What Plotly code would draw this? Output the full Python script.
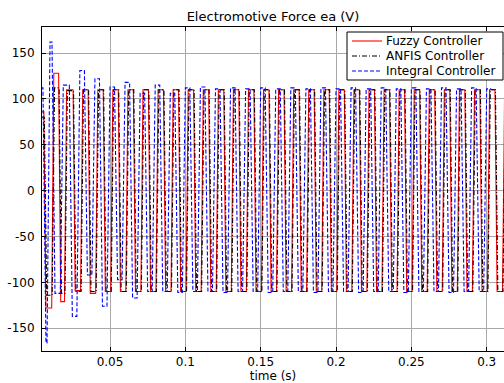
import plotly.graph_objects as go

# ---------------- data ----------------
# zero-crossing instants (s) of each half-cycle and the plateau value (V) reached in it
fuzzy_cross = [0.0030, 0.0068, 0.0120, 0.0166, 0.0205, 0.0262,
               0.0312, 0.0362, 0.0412, 0.0462, 0.0512, 0.0562, 0.0612, 0.0662, 0.0712, 0.0762,
               0.0812, 0.0862, 0.0912, 0.0962, 0.1012, 0.1062, 0.1112, 0.1162, 0.1212, 0.1262,
               0.1312, 0.1362, 0.1412, 0.1462, 0.1512, 0.1562, 0.1612, 0.1662, 0.1712, 0.1762,
               0.1812, 0.1862, 0.1912, 0.1962, 0.2012, 0.2062, 0.2112, 0.2162, 0.2212, 0.2262,
               0.2312, 0.2362, 0.2412, 0.2462, 0.2512, 0.2562, 0.2612, 0.2662, 0.2712, 0.2762,
               0.2812, 0.2862, 0.2912, 0.2962, 0.3012, 0.3062, 0.3112, 0.3162]
fuzzy_peak = [86, -128, 128, -121, 110, -109, 110, -112,
              110, -110, 110, -110, 110, -110, 110, -110, 110, -110,
              110, -110, 110, -110, 110, -110, 110, -110, 110, -110,
              110, -110, 110, -110, 110, -110, 110, -110, 110, -110,
              110, -110, 110, -110, 110, -110, 110, -110, 110, -110,
              110, -110, 110, -110, 110, -110, 110, -110, 110, -110,
              110, -110, 110, -110, 110]

anfis_lag = 0.0004  # ANFIS edges sit slightly to the right of the fuzzy ones
anfis_peak = [80, -114, 112, -112, 109, -110, 110, -110,
              110, -110, 110, -110, 110, -110, 110, -110, 110, -110,
              110, -110, 110, -110, 110, -110, 110, -110, 110, -110,
              110, -110, 110, -110, 110, -110, 110, -110, 110, -110,
              110, -110, 110, -110, 110, -110, 110, -110, 110, -110,
              110, -110, 110, -110, 110, -110, 110, -110, 110, -110,
              110, -110, 110, -110, 110]

integral_cross = [0.0030, 0.0065, 0.0092, 0.0125, 0.0180, 0.0240,
                  0.0290, 0.0340, 0.0390, 0.0440, 0.0490, 0.0540, 0.0590, 0.0640, 0.0690, 0.0740,
                  0.0790, 0.0840, 0.0890, 0.0940, 0.0990, 0.1040, 0.1090, 0.1140, 0.1190, 0.1240,
                  0.1290, 0.1340, 0.1390, 0.1440, 0.1490, 0.1540, 0.1590, 0.1640, 0.1690, 0.1740,
                  0.1790, 0.1840, 0.1890, 0.1940, 0.1990, 0.2040, 0.2090, 0.2140, 0.2190, 0.2240,
                  0.2290, 0.2340, 0.2390, 0.2440, 0.2490, 0.2540, 0.2590, 0.2640, 0.2690, 0.2740,
                  0.2790, 0.2840, 0.2890, 0.2940, 0.2990, 0.3040, 0.3090, 0.3140]
integral_peak = [112, -166, 162, -112, 115, -137, 131, -92, 122, -126, 113, -97,
                 118, -117, 106, -110, 115, -110, 106, -111, 112, -110,
                 113, -110, 111, -111, 112, -110, 111, -110, 112, -111,
                 111, -110, 112, -110, 111, -111, 112, -110, 111, -110,
                 112, -111, 111, -110, 112, -110, 111, -111, 112, -110,
                 111, -110, 112, -111, 111, -110, 112, -110, 111]

x_ticks = [0.05, 0.1, 0.15, 0.2, 0.25, 0.3]
x_ticktext = ["0.05", "0.1", "0.15", "0.2", "0.25", "0.3"]
y_ticks = [150, 100, 50, 0, -50, -100, -150]
y_ticktext = ["150", "100", "50", "0", "-50", "-100", "-150"]


def plateau_path(cross, peak, edge, lag=0.0):
    """Corner points of the plateau-shaped waveform (rendering only)."""
    t, v = [], []
    for k, p in enumerate(peak[:len(cross) - 1]):
        t += [cross[k] + lag + edge, cross[k + 1] + lag - edge]
        v += [p, p]
    return t, v


series = [
    ("Fuzzy Controller", fuzzy_cross, fuzzy_peak, 0.0007, 0.0, "#ff0000", "solid"),
    ("ANFIS Controller", fuzzy_cross, anfis_peak, 0.0008, anfis_lag, "#000000", "5px,2px,1px,2px"),
    ("Integral Controller", integral_cross, integral_peak, 0.0010, 0.0, "#0000ff", "4px,2px"),
]

FONT = "DejaVu Sans"
fig = go.Figure()
for name, cr, pk, edge, lag, color, dash in series:
    t, v = plateau_path(cr, pk, edge, lag)
    fig.add_trace(go.Scatter(x=t, y=v, mode="lines", name=name, showlegend=False,
                             line=dict(color=color, width=1.1, dash=dash)))

# MATLAB-style legend box (compact rows), drawn in paper coordinates
PL, PR, PT, PB = 42, 504, 27, 351


def px(xpix):
    return (xpix - PL) / (PR - PL)


def py(ypix):
    return (PB - ypix) / (PB - PT)


shapes = [dict(type="rect", xref="paper", yref="paper", x0=px(347), x1=px(503),
               y0=py(80), y1=py(32), fillcolor="white", line=dict(color="black", width=1),
               layer="above")]
annotations = []
for i, (name, cr, pk, edge, lag, color, dash) in enumerate(series):
    yy = py(41 + 15 * i)
    shapes.append(dict(type="line", xref="paper", yref="paper", x0=px(352), x1=px(382),
                       y0=yy, y1=yy, line=dict(color=color, width=1.1, dash=dash), layer="above"))
    annotations.append(dict(text=name, xref="paper", yref="paper", x=px(384), y=yy,
                            xanchor="left", yanchor="middle", showarrow=False,
                            font=dict(family=FONT, size=12, color="black")))

fig.update_layout(
    width=504, height=383,
    margin=dict(l=PL, r=0, t=PT, b=383 - PB),
    paper_bgcolor="white", plot_bgcolor="white",
    font=dict(family=FONT, size=12, color="black"),
    title=dict(text="Electromotive Force ea (V)", x=0.5, xref="paper", xanchor="center",
               y=1 - 16.5 / 383, yref="container", yanchor="middle",
               font=dict(family=FONT, size=13, color="black")),
    shapes=shapes, annotations=annotations,
    xaxis=dict(range=[0.00487, 0.31148], tickvals=x_ticks, ticktext=x_ticktext,
               ticks="inside", ticklen=4, tickcolor="black",
               showline=True, linecolor="black", linewidth=1, mirror="ticks",
               showgrid=True, gridcolor="#a8a8a8", gridwidth=1, zeroline=False,
               title=dict(text="time (s)", standoff=3, font=dict(family=FONT, size=12))),
    yaxis=dict(range=[-174.8, 178.4], tickvals=y_ticks, ticktext=y_ticktext,
               ticks="inside", ticklen=4, tickcolor="black",
               showline=True, linecolor="black", linewidth=1, mirror=False,
               showgrid=True, gridcolor="#a8a8a8", gridwidth=1, zeroline=False,
               ticklabelstandoff=4),
)

fig.write_html("out.html")
